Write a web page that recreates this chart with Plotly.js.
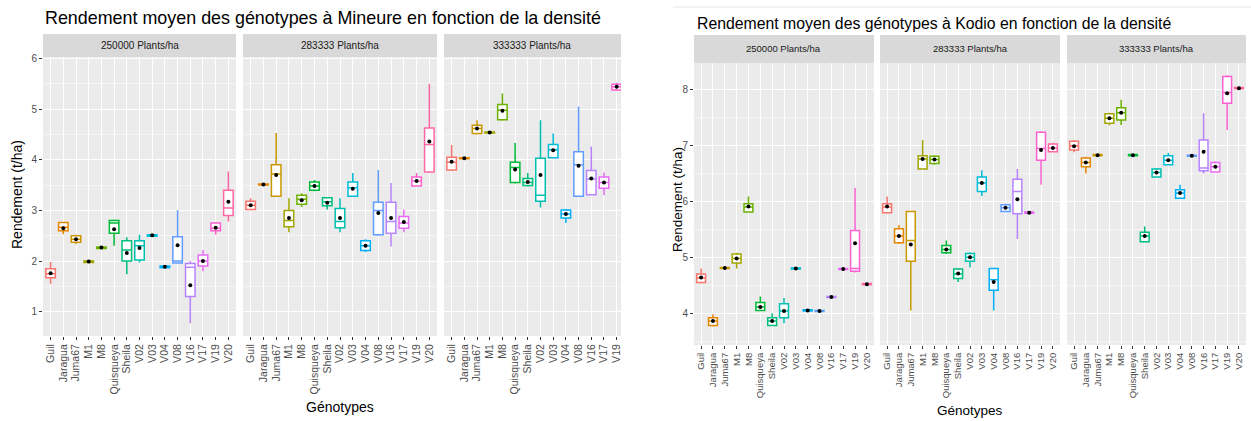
<!DOCTYPE html>
<html>
<head>
<meta charset="utf-8">
<script src="https://cdn.plot.ly/plotly-3.0.1.min.js"></script>
<style>html,body{margin:0;padding:0;background:#fff;}#chart{width:1251px;height:421px;}</style>
</head>
<body>
<div id="chart"></div>
<script>
// ---------- categories ----------
const genotypes = ["Guil","Jaragua","Juma67","M1","M8","Quisqueya","Sheila","V02","V03","V04","V08","V16","V17","V19","V20"];
const densities = ["250000 Plants/ha","283333 Plants/ha","333333 Plants/ha"];
const palette = ["#F8766D","#E58700","#C99800","#A3A500","#6BB100","#00BA38","#00BF7D","#00C0AF","#00BCD8","#00B0F6","#619CFF","#B983FF","#E76BF3","#FD61D1","#FF67A4"];

// ---------- Mineure, 250000 plants/ha ----------
const min250_low  = [1.55,2.53,2.33,1.96,2.24,2.30,1.74,1.97,2.49,1.87,1.95,0.77,1.80,2.52,2.78];
const min250_q1   = [1.67,2.60,2.37,1.97,2.25,2.55,2.00,2.02,2.49,1.87,1.96,1.30,1.90,2.60,2.90];
const min250_med  = [1.75,2.67,2.43,1.99,2.27,2.75,2.22,2.30,2.51,1.89,2.00,1.88,2.00,2.65,3.05];
const min250_q3   = [1.85,2.76,2.50,2.00,2.28,2.80,2.40,2.40,2.52,1.90,2.48,1.95,2.12,2.75,3.40];
const min250_high = [1.98,2.77,2.52,2.01,2.29,2.82,2.47,2.52,2.53,1.91,3.01,2.00,2.22,2.77,3.77];
const min250_mean = [1.76,2.65,2.43,1.99,2.27,2.63,2.16,2.26,2.51,1.89,2.31,1.52,2.00,2.66,3.17];

// ---------- Mineure, 283333 plants/ha ----------
const min283_low  = [3.00,3.49,3.27,2.57,3.07,3.38,3.02,2.57,3.27,2.18,2.50,2.29,2.57,3.47,3.74];
const min283_q1   = [3.02,3.50,3.28,2.68,3.12,3.40,3.09,2.66,3.28,2.21,2.52,2.55,2.65,3.48,3.76];
const min283_med  = [3.10,3.51,3.72,2.80,3.22,3.48,3.17,2.78,3.45,2.30,3.00,2.78,2.75,3.58,4.30];
const min283_q3   = [3.18,3.52,3.90,3.00,3.30,3.56,3.25,3.04,3.56,2.40,3.16,3.16,2.88,3.66,4.63];
const min283_high = [3.24,3.53,4.53,3.24,3.34,3.60,3.26,3.24,3.74,2.43,3.80,3.54,3.02,3.74,5.50];
const min283_mean = [3.10,3.51,3.70,2.85,3.20,3.48,3.15,2.85,3.43,2.30,2.95,2.85,2.77,3.58,4.36];

// ---------- Mineure, 333333 plants/ha ----------
const min333_low  = [3.78,4.01,4.50,4.52,4.77,3.53,3.47,3.06,4.03,2.75,3.27,3.30,3.30,5.36,5.50];
const min333_q1   = [3.80,4.02,4.52,4.53,4.79,3.55,3.49,3.18,4.04,2.85,3.28,3.31,3.44,5.38,5.55];
const min333_med  = [3.95,4.03,4.62,4.54,4.98,3.85,3.55,3.30,4.20,2.93,3.90,3.62,3.55,5.44,5.65];
const min333_q3   = [4.05,4.04,4.68,4.55,5.09,3.95,3.63,4.03,4.30,3.01,4.16,3.79,3.66,5.49,5.72];
const min333_high = [4.29,4.05,4.78,4.56,5.31,4.33,3.74,4.78,4.52,3.03,5.05,4.26,3.75,5.52,5.78];
const min333_mean = [3.96,4.03,4.62,4.54,4.97,3.81,3.56,3.70,4.19,2.93,3.88,3.63,3.55,5.44,5.65];

// ---------- Kodio, 250000 plants/ha ----------
const kod250_low  = [4.53,3.76,4.79,4.80,5.80,4.04,3.77,3.82,4.78,4.03,4.02,4.27,4.77,4.73,4.50];
const kod250_q1   = [4.55,3.78,4.80,4.90,5.81,4.05,3.78,3.92,4.79,4.04,4.03,4.28,4.78,4.75,4.51];
const kod250_med  = [4.63,3.86,4.81,4.98,5.90,4.11,3.86,4.04,4.80,4.05,4.04,4.29,4.79,4.80,4.52];
const kod250_q3   = [4.70,3.92,4.82,5.06,5.96,4.19,3.92,4.17,4.81,4.06,4.05,4.30,4.80,5.48,4.53];
const kod250_high = [4.80,3.98,4.83,5.08,6.09,4.30,4.00,4.27,4.82,4.07,4.06,4.31,4.81,6.24,4.54];
const kod250_mean = [4.64,3.86,4.81,4.98,5.91,4.11,3.86,4.04,4.80,4.05,4.04,4.29,4.79,5.25,4.52];

// ---------- Kodio, 283333 plants/ha ----------
const kod283_low  = [5.79,5.24,4.05,6.57,6.66,5.06,4.56,4.82,6.10,4.05,5.81,5.33,5.78,6.30,6.88];
const kod283_q1   = [5.80,5.26,4.93,6.58,6.68,5.08,4.62,4.93,6.18,4.41,5.82,5.78,5.79,6.74,6.89];
const kod283_med  = [5.90,5.38,5.30,6.76,6.75,5.14,4.70,5.00,6.33,4.60,5.89,6.18,5.80,6.95,6.96];
const kod283_q3   = [5.96,5.51,5.82,6.82,6.81,5.21,4.79,5.07,6.44,4.80,5.94,6.40,5.81,7.24,7.03];
const kod283_high = [6.09,5.58,5.83,7.10,6.83,5.30,4.81,5.09,6.56,4.81,5.96,6.58,5.82,7.26,7.05];
const kod283_mean = [5.91,5.38,5.23,6.76,6.75,5.14,4.71,5.00,6.33,4.56,5.89,6.04,5.80,6.92,6.96];

// ---------- Kodio, 333333 plants/ha ----------
const kod333_low  = [6.88,6.50,6.81,7.36,7.37,6.81,5.27,6.43,6.65,6.05,6.80,6.50,6.52,7.28,8.01];
const kod333_q1   = [6.92,6.62,6.82,7.40,7.46,6.82,5.28,6.44,6.66,6.06,6.81,6.55,6.53,7.76,8.02];
const kod333_med  = [7.00,6.70,6.83,7.49,7.59,6.83,5.38,6.52,6.74,6.15,6.82,6.60,6.62,7.95,8.03];
const kod333_q3   = [7.08,6.78,6.84,7.57,7.68,6.84,5.45,6.58,6.82,6.21,6.83,7.10,6.70,8.24,8.04];
const kod333_high = [7.10,6.80,6.85,7.59,7.82,6.85,5.55,6.60,6.87,6.30,6.84,7.58,6.72,8.26,8.05];
const kod333_mean = [6.99,6.70,6.83,7.49,7.59,6.83,5.38,6.52,6.74,6.15,6.82,6.89,6.62,7.94,8.03];

// ---------- texts ----------
const titleMineure = "Rendement moyen des génotypes à Mineure en fonction de la densité";
const titleKodio = "Rendement moyen des génotypes à Kodio en fonction de la densité";
const yTitle = "Rendement (t/ha)";
const xTitle = "Génotypes";

// ---------- build ----------
const W = 1251, H = 421;
const px = v => v / W;
const py = v => 1 - v / H;

const panels = [
  {xa:"x",  ya:"y",  low:min250_low, q1:min250_q1, med:min250_med, q3:min250_q3, high:min250_high, mean:min250_mean},
  {xa:"x2", ya:"y",  low:min283_low, q1:min283_q1, med:min283_med, q3:min283_q3, high:min283_high, mean:min283_mean},
  {xa:"x3", ya:"y",  low:min333_low, q1:min333_q1, med:min333_med, q3:min333_q3, high:min333_high, mean:min333_mean},
  {xa:"x4", ya:"y2", low:kod250_low, q1:kod250_q1, med:kod250_med, q3:kod250_q3, high:kod250_high, mean:kod250_mean},
  {xa:"x5", ya:"y2", low:kod283_low, q1:kod283_q1, med:kod283_med, q3:kod283_q3, high:kod283_high, mean:kod283_mean},
  {xa:"x6", ya:"y2", low:kod333_low, q1:kod333_q1, med:kod333_med, q3:kod333_q3, high:kod333_high, mean:kod333_mean}
];

const traces = [];
panels.forEach(p => {
  genotypes.forEach((g, i) => {
    traces.push({
      type: "box", xaxis: p.xa, yaxis: p.ya,
      x: [g], q1: [p.q1[i]], median: [p.med[i]], q3: [p.q3[i]],
      lowerfence: [p.low[i]], upperfence: [p.high[i]],
      boxpoints: false, width: 0.75, whiskerwidth: 0,
      fillcolor: "#FFFFFF", line: {color: palette[i], width: 1.5},
      hoverinfo: "skip", showlegend: false
    });
  });
  traces.push({
    type: "scatter", mode: "markers", xaxis: p.xa, yaxis: p.ya,
    x: genotypes, y: p.mean, marker: {color: "#000000", size: 4},
    hoverinfo: "skip", showlegend: false
  });
});

function xAxis(domain, anchor, range, fs) {
  return {
    type: "category", categoryorder: "array", categoryarray: genotypes,
    tickmode: "array", tickvals: genotypes, ticktext: genotypes,
    tickangle: -90, tickfont: {size: fs, color: "#4D4D4D", family: "Liberation Sans, Arial, sans-serif"},
    ticks: "outside", ticklen: 3, tickwidth: 1, tickcolor: "#333333",
    showgrid: true, gridcolor: "#FFFFFF", gridwidth: 1,
    zeroline: false, showline: false, fixedrange: true,
    domain: domain, anchor: anchor, range: range
  };
}
function yAxis(domain, anchor, range) {
  return {
    tickfont: {size: 10, color: "#4D4D4D", family: "Liberation Sans, Arial, sans-serif"},
    ticks: "outside", ticklen: 3, tickwidth: 1, tickcolor: "#333333",
    showgrid: true, gridcolor: "#FFFFFF", gridwidth: 1, dtick: 1, tick0: 0,
    minor: {dtick: 0.5, tick0: 0, showgrid: true, gridcolor: "#FFFFFF", gridwidth: 0.5, ticks: ""},
    zeroline: false, showline: false, fixedrange: true,
    domain: domain, anchor: anchor, range: range
  };
}

const layout = {
  width: W, height: H,
  margin: {l: 0, r: 0, t: 0, b: 0, pad: 0},
  paper_bgcolor: "#FFFFFF", plot_bgcolor: "#EBEBEB",
  showlegend: false, boxmode: "overlay",
  font: {family: "Liberation Sans, Arial, sans-serif", color: "#000000"},
  xaxis:  xAxis([px(43),  px(236)],  "y",  [-0.6, 14.6], 10.5),
  xaxis2: xAxis([px(243), px(437)],  "y",  [-0.6, 14.6], 10.5),
  xaxis3: xAxis([px(444), px(621)],  "y",  [-0.6, 13.34], 10.5),
  xaxis4: xAxis([px(694), px(874)],  "y2", [-0.6, 14.6], 9.5),
  xaxis5: xAxis([px(880), px(1060)], "y2", [-0.6, 14.6], 9.5),
  xaxis6: xAxis([px(1067),px(1246)], "y2", [-0.6, 14.6], 9.5),
  yaxis:  yAxis([py(336), py(57)], "x",  [0.52, 6.03]),
  yaxis2: yAxis([py(345), py(63)], "x4", [3.43, 8.48]),
  shapes: [
    {type:"rect", xref:"paper", yref:"paper", x0:px(43),  x1:px(236),  y0:py(57), y1:py(34), fillcolor:"#D9D9D9", line:{width:0}},
    {type:"rect", xref:"paper", yref:"paper", x0:px(243), x1:px(437),  y0:py(57), y1:py(34), fillcolor:"#D9D9D9", line:{width:0}},
    {type:"rect", xref:"paper", yref:"paper", x0:px(444), x1:px(621),  y0:py(57), y1:py(34), fillcolor:"#D9D9D9", line:{width:0}},
    {type:"rect", xref:"paper", yref:"paper", x0:px(694), x1:px(874),  y0:py(63), y1:py(35), fillcolor:"#D9D9D9", line:{width:0}},
    {type:"rect", xref:"paper", yref:"paper", x0:px(880), x1:px(1060), y0:py(63), y1:py(35), fillcolor:"#D9D9D9", line:{width:0}},
    {type:"rect", xref:"paper", yref:"paper", x0:px(1067),x1:px(1246), y0:py(63), y1:py(35), fillcolor:"#D9D9D9", line:{width:0}},
    {type:"line", xref:"paper", yref:"paper", x0:px(673), x1:1, y0:py(7), y1:py(7), line:{color:"#E6E6E6", width:1}}
  ],
  annotations: [
    {text: titleMineure, xref:"paper", yref:"paper", x:px(43),  y:py(18), xanchor:"left", yanchor:"middle", showarrow:false, font:{size:17.9, color:"#000"}},
    {text: titleKodio,   xref:"paper", yref:"paper", x:px(695), y:py(24), xanchor:"left", yanchor:"middle", showarrow:false, font:{size:15.8, color:"#000"}},
    {text: densities[0], xref:"paper", yref:"paper", x:px(139.5), y:py(45.5), xanchor:"center", yanchor:"middle", showarrow:false, font:{size:10, color:"#1A1A1A"}},
    {text: densities[1], xref:"paper", yref:"paper", x:px(340),   y:py(45.5), xanchor:"center", yanchor:"middle", showarrow:false, font:{size:10, color:"#1A1A1A"}},
    {text: densities[2], xref:"paper", yref:"paper", x:px(532),   y:py(45.5), xanchor:"center", yanchor:"middle", showarrow:false, font:{size:10, color:"#1A1A1A"}},
    {text: densities[0], xref:"paper", yref:"paper", x:px(784),   y:py(49), xanchor:"center", yanchor:"middle", showarrow:false, font:{size:9.5, color:"#1A1A1A"}},
    {text: densities[1], xref:"paper", yref:"paper", x:px(970),   y:py(49), xanchor:"center", yanchor:"middle", showarrow:false, font:{size:9.5, color:"#1A1A1A"}},
    {text: densities[2], xref:"paper", yref:"paper", x:px(1156.5),y:py(49), xanchor:"center", yanchor:"middle", showarrow:false, font:{size:9.5, color:"#1A1A1A"}},
    {text: yTitle, xref:"paper", yref:"paper", x:px(17),  y:py(195), xanchor:"center", yanchor:"middle", textangle:-90, showarrow:false, font:{size:14, color:"#000"}},
    {text: yTitle, xref:"paper", yref:"paper", x:px(677), y:py(200), xanchor:"center", yanchor:"middle", textangle:-90, showarrow:false, font:{size:13.5, color:"#000"}},
    {text: xTitle, xref:"paper", yref:"paper", x:px(340), y:py(407), xanchor:"center", yanchor:"middle", showarrow:false, font:{size:14, color:"#000"}},
    {text: xTitle, xref:"paper", yref:"paper", x:px(970), y:py(410), xanchor:"center", yanchor:"middle", showarrow:false, font:{size:13.5, color:"#000"}}
  ]
};

Plotly.newPlot("chart", traces, layout, {staticPlot: true, displayModeBar: false});
</script>
</body>
</html>
